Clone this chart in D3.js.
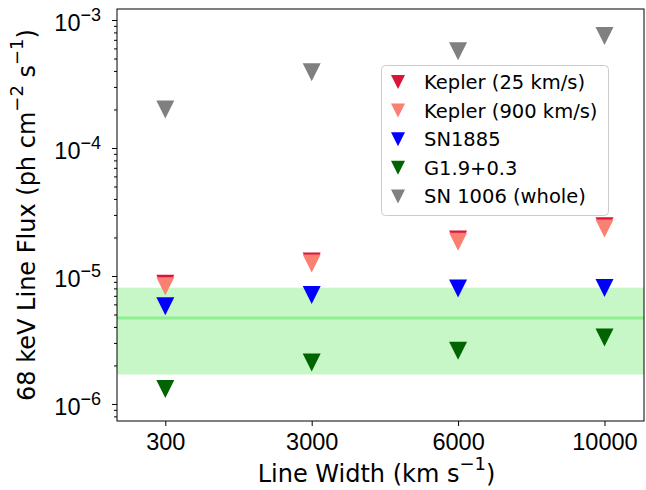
<!DOCTYPE html>
<html lang="en">
<head>
<meta charset="UTF-8">
<title>68 keV line flux limits</title>
<style>
  body { margin: 0; background: #fff; }
  svg { font-family: "DejaVu Sans", sans-serif; }
  .axis path, .axis line { stroke: #000; }
  .axis text { fill: #000; }
</style>
</head>
<body>
<svg width="646" height="490"></svg>
<script src="https://d3js.org/d3.v7.min.js"></script>
<script>

// line widths (km/s), evenly spaced categories
var widths = ["300", "3000", "6000", "10000"];

// 68 keV line flux upper limits (ph cm^-2 s^-1)
var keplerSlow = [8.7e-6, 1.30e-5, 1.93e-5, 2.45e-5];
var keplerFast = [8.3e-6, 1.25e-5, 1.85e-5, 2.35e-5];
var sn1885 = [5.8e-6, 7.1e-6, 8.0e-6, 8.05e-6];
var g19 = [1.31e-6, 2.11e-6, 2.6e-6, 3.3e-6];
var sn1006 = [2.0e-4, 3.9e-4, 5.7e-4, 7.5e-4];

// shaded band and its central line
var bandRange = [1.7e-6, 8.1e-6];
var bandMid = 4.7e-6;

var seriesNames = ["Kepler (25 km/s)", "Kepler (900 km/s)", "SN1885", "G1.9+0.3", "SN 1006 (whole)"];
var seriesColors = ["#dc143c", "#fa8072", "#0000ff", "#006400", "#808080"];
var seriesValues = [keplerSlow, keplerFast, sn1885, g19, sn1006];

var yMajor = [-6, -5, -4, -3];

var svg = d3.select("svg"),
    plot = {left: 117, right: 644, top: 9, bottom: 421};

var x = d3.scaleLinear()
    .domain([-0.33, 3.27])
    .range([plot.left, plot.right]);

var y = d3.scaleLog()
    .domain([Math.pow(10, -6.133), Math.pow(10, -2.914)])
    .range([plot.bottom, plot.top]);

// band
svg.append("rect")
    .attr("x", plot.left)
    .attr("width", plot.right - plot.left)
    .attr("y", y(bandRange[1]))
    .attr("height", y(bandRange[0]) - y(bandRange[1]))
    .attr("fill", "#90ee90")
    .attr("fill-opacity", 0.5);

svg.append("line")
    .attr("x1", plot.left).attr("x2", plot.right)
    .attr("y1", y(bandMid)).attr("y2", y(bandMid))
    .attr("stroke", "#90ee90")
    .attr("stroke-width", 3);

function tri(s) {
  var h = s / 2;
  return "M" + (-h) + "," + (-h) + "L" + h + "," + (-h) + "L0," + h + "Z";
}

// markers
seriesValues.forEach(function(vals, k) {
  svg.append("g")
      .attr("fill", seriesColors[k])
    .selectAll("path")
    .data(vals)
    .enter().append("path")
      .attr("d", tri(18))
      .attr("transform", function(d, i) { return "translate(" + x(i) + "," + y(d) + ")"; });
});

// minor y ticks
var minor = [];
for (var e = -7; e <= -3; e++) {
  for (var m = 2; m <= 9; m++) {
    var v = m * Math.pow(10, e);
    if (v >= y.domain()[0] && v <= y.domain()[1]) minor.push(v);
  }
}

svg.append("g")
    .attr("class", "axis")
    .attr("transform", "translate(" + plot.left + ",0)")
    .call(d3.axisLeft(y).tickValues(minor).tickSize(3).tickFormat(""))
    .call(function(g) { g.select(".domain").remove(); });

// major y ticks
var yAxis = svg.append("g")
    .attr("class", "axis")
    .attr("transform", "translate(" + plot.left + ",0)")
    .call(d3.axisLeft(y)
        .tickValues(yMajor.map(function(p) { return Math.pow(10, p); }))
        .tickSize(5)
        .tickPadding(11)
        .tickFormat(""));
yAxis.select(".domain").remove();

yAxis.selectAll(".tick text")
    .attr("font-size", 23.5)
    .attr("dy", "0.44em")
    .each(function(d) {
      var t = d3.select(this);
      t.append("tspan").text("10");
      t.append("tspan")
          .attr("font-size", 18)
          .attr("dy", -10)
          .text("\u2212" + Math.round(-Math.log10(d)));
    });

// x axis
svg.append("g")
    .attr("class", "axis")
    .attr("transform", "translate(0," + plot.bottom + ")")
    .call(d3.axisBottom(x)
        .tickValues(d3.range(widths.length))
        .tickSize(5)
        .tickPadding(7)
        .tickFormat(function(i) { return widths[i]; }))
    .call(function(g) {
      g.select(".domain").remove();
      g.selectAll("text").attr("font-size", 23.5);
    });

// frame
svg.append("rect")
    .attr("x", plot.left).attr("y", plot.top)
    .attr("width", plot.right - plot.left).attr("height", plot.bottom - plot.top)
    .attr("fill", "none")
    .attr("stroke", "#000")
    .attr("stroke-width", 1);

// axis titles
var xt = svg.append("text")
    .attr("x", (plot.left + plot.right) / 2 - 4)
    .attr("y", 482)
    .attr("text-anchor", "middle")
    .attr("font-size", 24);
xt.append("tspan").text("Line Width (km s");
xt.append("tspan").attr("font-size", 18).attr("dy", -12).text("\u22121");
xt.append("tspan").attr("dy", 12).text(")");

var yt = svg.append("text")
    .attr("transform", "translate(35," + (plot.top + plot.bottom) / 2 + ") rotate(-90)")
    .attr("text-anchor", "middle")
    .attr("font-size", 24);
yt.append("tspan").text("68 keV Line Flux (ph cm");
yt.append("tspan").attr("font-size", 18).attr("dy", -12).text("\u22122");
yt.append("tspan").attr("dy", 12).text(" s");
yt.append("tspan").attr("font-size", 18).attr("dy", -12).text("\u22121");
yt.append("tspan").attr("dy", 12).text(")");

// legend
var legend = svg.append("g").attr("transform", "translate(381,65)");
legend.append("rect")
    .attr("x", 0.5).attr("y", 0.5)
    .attr("width", 227).attr("height", 150)
    .attr("rx", 4)
    .attr("fill", "#fff")
    .attr("fill-opacity", 0.8)
    .attr("stroke", "#cccccc");

var rows = legend.selectAll(".row")
    .data(seriesNames)
    .enter().append("g")
    .attr("transform", function(d, i) { return "translate(0," + (17 + i * 28.6) + ")"; });

rows.append("path")
    .attr("d", tri(14))
    .attr("transform", "translate(17,0)")
    .attr("fill", function(d, i) { return seriesColors[i]; });

rows.append("text")
    .attr("x", 43)
    .attr("dy", "0.36em")
    .attr("font-size", 19.5)
    .text(function(d) { return d; });

</script>
</body>
</html>
